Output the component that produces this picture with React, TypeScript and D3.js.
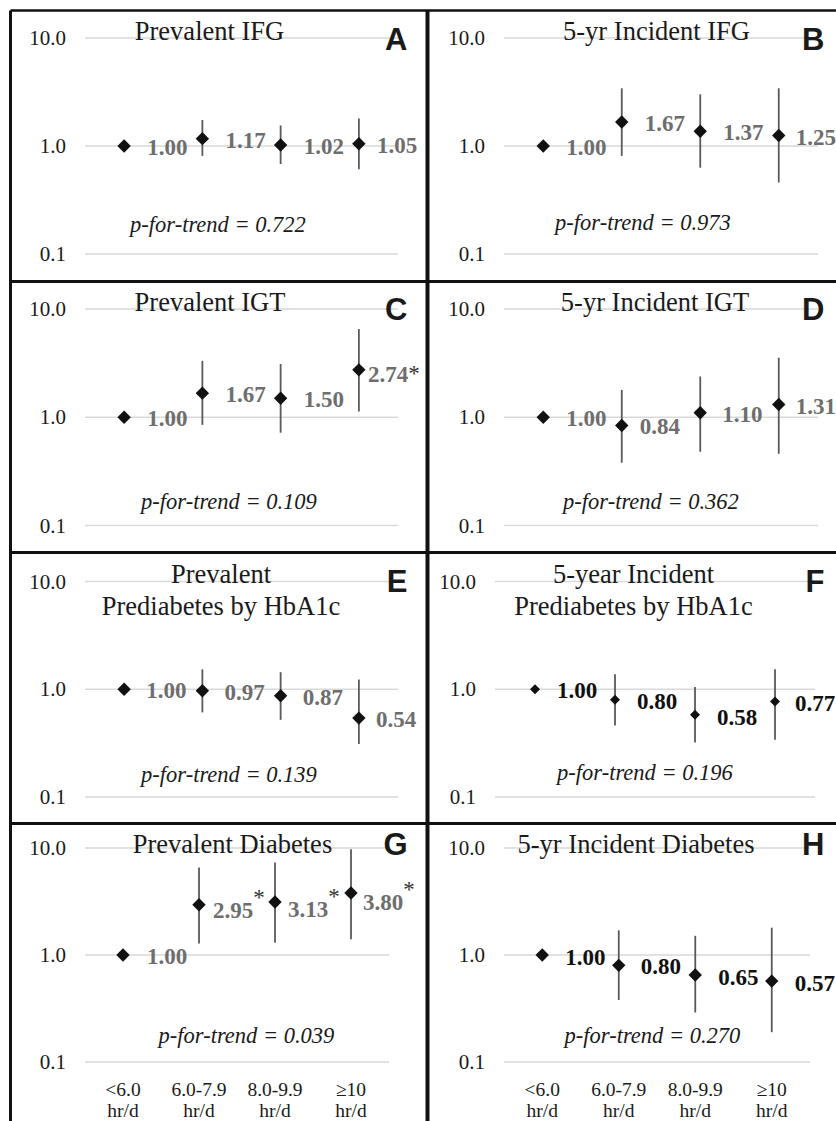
import React from 'react';
import * as d3 from 'd3';

// categories of daily sitting time
const categoryTop = ['<6.0', '6.0-7.9', '8.0-9.9', '\u226510'];
const categoryBottom = ['hr/d', 'hr/d', 'hr/d', 'hr/d'];
const yTicks = [0.1, 1, 10];

const panelLetters = ['A', 'B', 'C', 'D', 'E', 'F', 'G', 'H'];
const panelTitles = [
  ['Prevalent IFG'],
  ['5-yr Incident IFG'],
  ['Prevalent IGT'],
  ['5-yr Incident IGT'],
  ['Prevalent', 'Prediabetes by HbA1c'],
  ['5-year Incident', 'Prediabetes by HbA1c'],
  ['Prevalent Diabetes'],
  ['5-yr Incident Diabetes'],
];

// odds ratios per panel (A..H), one per category
const oddsRatios = [
  [1.0, 1.17, 1.02, 1.05],
  [1.0, 1.67, 1.37, 1.25],
  [1.0, 1.67, 1.5, 2.74],
  [1.0, 0.84, 1.1, 1.31],
  [1.0, 0.97, 0.87, 0.54],
  [1.0, 0.8, 0.58, 0.77],
  [1.0, 2.95, 3.13, 3.8],
  [1.0, 0.8, 0.65, 0.57],
];
// 95% CI, reference group has none
const ciLower = [
  [null, 0.81, 0.68, 0.61],
  [null, 0.81, 0.63, 0.46],
  [null, 0.85, 0.72, 1.13],
  [null, 0.38, 0.48, 0.46],
  [null, 0.61, 0.52, 0.31],
  [null, 0.46, 0.32, 0.34],
  [null, 1.28, 1.3, 1.4],
  [null, 0.38, 0.29, 0.19],
];
const ciUpper = [
  [null, 1.74, 1.55, 1.8],
  [null, 3.42, 3.01, 3.42],
  [null, 3.32, 3.1, 6.53],
  [null, 1.79, 2.38, 3.55],
  [null, 1.53, 1.44, 1.23],
  [null, 1.38, 1.05, 1.53],
  [null, 6.57, 7.31, 9.73],
  [null, 1.7, 1.51, 1.8],
];
const pForTrend = ['0.722', '0.973', '0.109', '0.362', '0.139', '0.196', '0.039', '0.270'];
// index of categories marked with an asterisk
const significant = [[], [], [3], [], [], [], [1, 2, 3], []];

// ---- layout (page pixels) ----
const W = 836;
const H = 1121;
const rowTop = [10.5, 281.5, 552.5, 823.5];
const rowY10 = [38, 309, 581.5, 848];
const rowY01 = [254, 525.5, 797, 1062];
const colLeft = [10.5, 427.5];
const letterBase = [50, 319.5, 591.5, 855];

const GRAY = '#6e6e6e';
const serif = "'Liberation Serif', 'Times New Roman', serif";
const sans = "'Liberation Sans', Arial, sans-serif";

const layout = [
  { x0: 85, x1: 398, titleX: 209.5, titleY: [40], pX: 218, pY: 232, dx: [23, 23, 23, 18], dy: [1, 1, 1, 1], marker: 90, color: GRAY, star: 0 },
  { x0: 504, x1: 818, titleX: 656.5, titleY: [40], pX: 643, pY: 230, dx: [23, 23, 23, 17], dy: [1, 1, 1, 1], marker: 90, color: GRAY, star: 0 },
  { x0: 85, x1: 398, titleX: 210, titleY: [310.5], pX: 229, pY: 509, dx: [23, 23, 23, 9], dy: [1, 1, 1, 4], marker: 90, color: GRAY, star: 1 },
  { x0: 504, x1: 818, titleX: 655, titleY: [311], pX: 651, pY: 509, dx: [23, 18, 22, 17], dy: [1, 1, 1, 1], marker: 90, color: GRAY, star: 0 },
  { x0: 85, x1: 398, titleX: 221, titleY: [582.5, 615], pX: 229, pY: 782, dx: [22, 22, 22, 17], dy: [1, 1, 1, 1], marker: 90, color: GRAY, star: 0 },
  { x0: 495, x1: 815, titleX: 633.5, titleY: [582.5, 615], pX: 645, pY: 780, dx: [22, 22, 22, 20], dy: [1, 1.5, 2, 1.5], marker: 50, color: '#111', star: 0 },
  { x0: 85, x1: 389, titleX: 232.5, titleY: [853], pX: 246.5, pY: 1043, dx: [24, 14, 13, 12], dy: [1, 5, 7, 9], marker: 90, color: GRAY, star: 13 },
  { x0: 504, x1: 810, titleX: 636, titleY: [853], pX: 652.5, pY: 1043, dx: [23, 22, 23, 23], dy: [1.5, 1, 1.5, 1.5], marker: 90, color: '#111', star: 0 },
];

function Panel({ i }: { i: number }) {
  const L = layout[i];
  const row = Math.floor(i / 2);
  const col = i % 2;
  const x = d3.scaleBand<number>().domain([0, 1, 2, 3]).range([L.x0, L.x1]).padding(0);
  const y = d3.scaleLog().domain([0.1, 10]).range([rowY01[row], rowY10[row]]);
  const cx = (k: number) => (x(k) as number) + x.bandwidth() / 2;
  const diamond = d3.symbol(d3.symbolSquare, L.marker)();
  const fmt = d3.format('.1f');

  return (
    <g>
      {yTicks.map((t) => (
        <g key={t}>
          <line x1={L.x0} x2={L.x1} y1={y(t)} y2={y(t)} stroke="#d9d9d9" strokeWidth={1.5} />
          <text x={L.x0 - 19} y={y(t) + 7} textAnchor="end" fontFamily={serif} fontSize={21} fill="#1a1a1a">
            {fmt(t)}
          </text>
        </g>
      ))}
      {panelTitles[i].map((s, j) => (
        <text key={j} x={L.titleX} y={L.titleY[j]} textAnchor="middle" fontFamily={serif} fontSize={26.5} fill="#1a1a1a">
          {s}
        </text>
      ))}
      {oddsRatios[i].map((v, k) => {
        const lo = ciLower[i][k];
        const hi = ciUpper[i][k];
        return lo != null && hi != null ? (
          <line key={'e' + k} x1={cx(k)} x2={cx(k)} y1={y(lo)} y2={y(hi)} stroke="#5a5a5a" strokeWidth={1.8} />
        ) : null;
      })}
      {oddsRatios[i].map((v, k) => (
        <path key={'m' + k} d={diamond as string} transform={`translate(${cx(k)},${y(v)}) rotate(45)`} fill="#111" />
      ))}
      {oddsRatios[i].map((v, k) => (
        <text key={'l' + k} x={cx(k) + L.dx[k]} y={y(v) + 8 + L.dy[k]} fontFamily={serif} fontWeight="bold" fontSize={23} fill={L.color}>
          {v.toFixed(2)}
          {significant[i].includes(k) ? (
            <tspan fontWeight="normal" fill="#333" dy={-L.star}>*</tspan>
          ) : null}
        </text>
      ))}
      <text x={L.pX} y={L.pY} textAnchor="middle" fontFamily={serif} fontStyle="italic" fontSize={22.5} fill="#1a1a1a">
        {`p-for-trend = ${pForTrend[i]}`}
      </text>
      {row === 3 &&
        categoryTop.map((c, k) => (
          <g key={'c' + k}>
            <text x={cx(k)} y={1096} textAnchor="middle" fontFamily={serif} fontSize={19.5} fill="#1a1a1a">{c}</text>
            <text x={cx(k)} y={1117} textAnchor="middle" fontFamily={serif} fontSize={19.5} fill="#1a1a1a">{categoryBottom[k]}</text>
          </g>
        ))}
      <text x={colLeft[col] + 397} y={letterBase[row]} textAnchor="end" fontFamily={sans} fontWeight="bold" fontSize={31} fill="#1a1a1a">
        {panelLetters[i]}
      </text>
    </g>
  );
}

export default function App() {
  return (
    <svg width={W} height={H} style={{ position: 'absolute', left: 0, top: 0, background: '#fff' }}>
      <rect x={0} y={0} width={W} height={H} fill="#fff" />
      {panelLetters.map((_, i) => (
        <Panel key={i} i={i} />
      ))}
      {/* panel frame */}
      <line x1={colLeft[0]} x2={W} y1={rowTop[0]} y2={rowTop[0]} stroke="#111" strokeWidth={2.5} />
      {rowTop.slice(1).map((t) => (
        <line key={t} x1={colLeft[0]} x2={W} y1={t} y2={t} stroke="#111" strokeWidth={3} />
      ))}
      <line x1={colLeft[0]} x2={colLeft[0]} y1={rowTop[0]} y2={H} stroke="#111" strokeWidth={3} />
      <line x1={colLeft[1]} x2={colLeft[1]} y1={rowTop[0]} y2={H} stroke="#111" strokeWidth={4} />
    </svg>
  );
}
